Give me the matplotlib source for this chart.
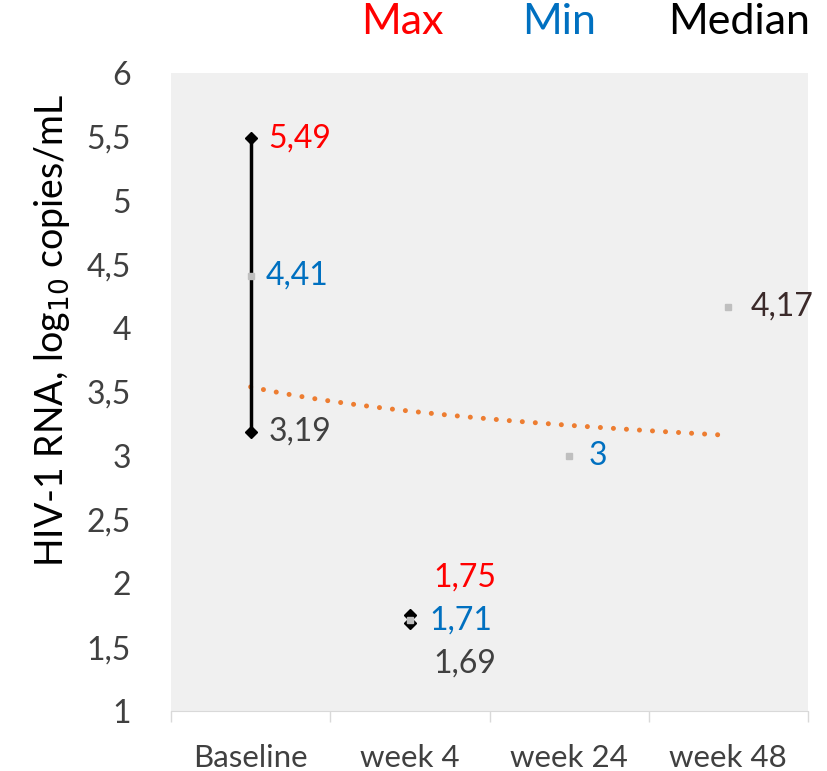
import numpy as np
import matplotlib
matplotlib.use("Agg")
import matplotlib.pyplot as plt

plt.rcParams['font.family'] = ['Lato', 'DejaVu Sans']

categories = ["Baseline", "week 4", "week 24", "week 48"]
max_vals = [5.49, 1.75, np.nan, np.nan]
median_vals = [3.19, 1.69, np.nan, np.nan]
min_vals = [4.41, 1.71, 3.00, 4.17]

def fmt(v):
    s = ("%.2f" % v).rstrip("0").rstrip(".")
    return s.replace(".", ",")

x = np.arange(1, len(categories) + 1)

fig = plt.figure(figsize=(8.27, 7.71), dpi=100)
ax = fig.add_axes([0.2068, 0.0778, 0.7702, 0.8275])
ax.set_facecolor("#F0F0F0")

# high-low lines
for xi, hi, lo in zip(x, max_vals, median_vals):
    if not np.isnan(hi):
        ax.plot([xi, xi], [lo, hi], color="black", lw=2.5, zorder=3)

ax.plot(x, max_vals, ls="none", marker="D", ms=6.5, color="black", zorder=4)
ax.plot(x, median_vals, ls="none", marker="D", ms=6.5, color="black", zorder=4)
ax.plot(x, min_vals, ls="none", marker="s", ms=4, color="#BFBFBF", zorder=5)

# logarithmic trendline on the Min series
a, b = np.polyfit(np.log(x), min_vals, 1)
xt = np.linspace(1, 4, 200)
ax.plot(xt, a * np.log(xt) + b, color="#ED7D31", lw=3.6,
        ls=(0, (0.01, 2.6)), dash_capstyle="round", zorder=2)

# data labels
lab_kw = dict(fontsize=23, va="center", ha="left", textcoords="offset points")
ax.annotate(fmt(max_vals[0]), (x[0], max_vals[0]), xytext=(13, 0), color="#FF0000", **lab_kw)
ax.annotate(fmt(min_vals[0]), (x[0], min_vals[0]), xytext=(11, 0), color="#0070C0", **lab_kw)
ax.annotate(fmt(median_vals[0]), (x[0], median_vals[0]), xytext=(13, 0), color="#404040", **lab_kw)
ax.annotate(fmt(max_vals[1]), (x[1], max_vals[1]), xytext=(17, 27), color="#FF0000", **lab_kw)
ax.annotate(fmt(min_vals[1]), (x[1], min_vals[1]), xytext=(14, 0), color="#0070C0", **lab_kw)
ax.annotate(fmt(median_vals[1]), (x[1], median_vals[1]), xytext=(17, -29), color="#404040", **lab_kw)
ax.annotate(fmt(min_vals[2]), (x[2], min_vals[2]), xytext=(14, 0), color="#0070C0", **lab_kw)
ax.annotate(fmt(min_vals[3]), (x[3], min_vals[3]), xytext=(16, 0), color="#3B2A2A", **lab_kw)

ax.set_xlim(0.5, 4.5)
ax.set_ylim(1, 6)
yt = np.arange(1, 6.01, 0.5)
ax.set_yticks(yt)
ax.set_yticklabels([fmt(v) for v in yt], fontsize=23, color="#404040")
ax.set_xticks([0.5, 1.5, 2.5, 3.5, 4.5])
ax.set_xticklabels([])
ax.set_xticks(x, minor=True)
ax.set_xticklabels(categories, minor=True, fontsize=22.5, color="#404040")
ax.tick_params(axis="x", which="major", length=8, color="#D9D9D9", width=1)
ax.tick_params(axis="x", which="minor", length=0, pad=24)
ax.tick_params(axis="y", length=0, pad=29)
for s in ["top", "right", "left"]:
    ax.spines[s].set_visible(False)
ax.spines["bottom"].set_color("#D9D9D9")

fig.text(52 / 827, 1 - 330 / 771, "HIV-1 RNA, log$_{10}$ copies/mL", fontsize=27,
         color="black", rotation=90, ha="center", va="center")

fig.text(402 / 827, 1 - 22 / 771, "Max", color="#FF0000", fontsize=31, ha="center", va="center")
fig.text(559 / 827, 1 - 22 / 771, "Min", color="#0070C0", fontsize=31, ha="center", va="center")
fig.text(739 / 827, 1 - 22 / 771, "Median", color="black", fontsize=31, ha="center", va="center")

fig.savefig("out.png", dpi=100)
